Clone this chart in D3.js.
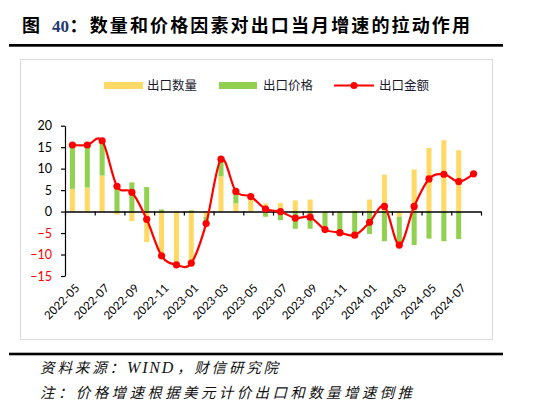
<!DOCTYPE html>
<html><head><meta charset="utf-8">
<script src="https://cdn.jsdelivr.net/npm/d3@7"></script>
<style>body{margin:0;background:#fff}svg{display:block}</style>
</head><body>
<svg id="c" width="537" height="409"></svg>
<script>
const months = ["2022-05","2022-06","2022-07","2022-08","2022-09","2022-10","2022-11","2022-12",
"2023-01","2023-02","2023-03","2023-04","2023-05","2023-06","2023-07","2023-08","2023-09","2023-10","2023-11","2023-12",
"2024-01","2024-02","2024-03","2024-04","2024-05","2024-06","2024-07","2024-08"];
const quantity = [5.3,5.6,8.4,-0.7,-2.2,-7.1,-10.4,-12.3,-11.6,-1.3,8.2,1.9,3.0,1.9,2.0,2.6,2.8,0,0,0.2,2.8,8.6,-1.2,9.8,14.8,16.6,14.3,null];
const price = [9.9,9.4,7.6,6.5,6.8,5.7,0.5,0,0.3,-0.9,3.9,2.4,0.5,-1.2,-2.0,-4.0,-4.0,-3.8,-4.8,-5.0,-5.2,-6.9,-6.5,-7.8,-6.3,-6.9,-6.4,null];
const total = [15.5,15.5,16.5,5.9,4.5,-1.8,-10.3,-12.4,-12.0,-2.8,12.2,4.7,3.5,0.6,0.0,-1.5,-1.3,-4.2,-4.9,-5.5,-2.5,1.2,-7.8,1.2,7.6,8.7,7.0,8.8];
const yTicks = [-15,-10,-5,0,5,10,15,20];
const xLabelMonths = months.filter((m,i)=>i%2===0);
const seriesNames = ["出口数量","出口价格","出口金额"];
const colors = {"出口数量":"#FFD966","出口价格":"#92D050","出口金额":"#FF0000"};

const svg = d3.select("#c");
const L=65,R=481,T=125.7,B=276;
const x = d3.scaleBand().domain(months).range([L,R]).paddingInner(0.66).paddingOuter(0.33);
const xb = d3.scaleLinear().domain([0,months.length]).range([L,R]);
const y = d3.scaleLinear().domain([-15,20]).range([B,T]);
const cx = m => x(m)+x.bandwidth()/2;

// title
const tt = svg.append("g").attr("font-weight","bold").attr("font-size",18).attr("fill","#000");
tt.append("text").attr("x",22).attr("y",32).attr("font-family","Noto Sans CJK SC").text("图");
tt.append("text").attr("x",52).attr("y",32).attr("font-family","Liberation Serif").attr("fill","#1F3A6E").attr("font-size",17).text("40");
tt.append("text").attr("x",69.5).attr("y",32).attr("font-family","Noto Sans CJK SC")
  .attr("textLength",400.5).attr("lengthAdjust","spacing").text("：数量和价格因素对出口当月增速的拉动作用");
svg.append("rect").attr("x",9).attr("y",44).attr("width",494).attr("height",2.7).attr("fill","#000");

// chart frame
svg.append("rect").attr("x",20.5).attr("y",59.5).attr("width",472).attr("height",280).attr("fill","none").attr("stroke","#d9d9d9");

// stacked bars
const rows = months.map((m,i)=>({m, q:quantity[i]||0, p:price[i]||0}));
const stack = d3.stack().keys(["q","p"]).offset(d3.stackOffsetDiverging);
const stacked = stack(rows);
const keyName = {q:"出口数量",p:"出口价格"};
svg.append("g").selectAll("g").data(stacked).join("g")
  .attr("fill",d=>colors[keyName[d.key]])
  .selectAll("rect").data(d=>d).join("rect")
  .attr("x",d=>x(d.data.m)).attr("width",x.bandwidth())
  .attr("y",d=>y(Math.max(d[0],d[1]))).attr("height",d=>Math.abs(y(d[0])-y(d[1])));

// axes
const ya = svg.append("g").attr("transform",`translate(${L},0)`)
  .call(d3.axisLeft(y).tickValues(yTicks).tickSize(4).tickSizeOuter(0).tickPadding(9));
ya.select(".domain").attr("stroke","#000").attr("stroke-width",1.2);
ya.selectAll(".tick line").attr("stroke","#000").attr("stroke-width",1.2);
ya.selectAll(".tick text").attr("font-family","Lato").attr("font-size",12.5)
  .attr("fill",d=>d<0?"#FF0000":"#000");

const xa = svg.append("g").attr("transform",`translate(0,${y(0)})`)
  .call(d3.axisBottom(xb).tickValues(d3.range(0,months.length+1,2)).tickSize(4).tickSizeOuter(0).tickFormat(""));
xa.select(".domain").attr("stroke","#000").attr("stroke-width",1.5);
xa.selectAll(".tick line").attr("stroke","#000").attr("stroke-width",1.2);

// x labels at bottom
svg.append("g").selectAll("text").data(xLabelMonths).join("text")
  .attr("transform",d=>`translate(${cx(d)+5},${B+10}) rotate(-45)`)
  .attr("text-anchor","end").attr("dy","0.35em")
  .attr("font-family","Lato").attr("font-size",11.5).attr("fill","#000").text(d=>d);

// line
const pts = months.map((m,i)=>({m,v:total[i]}));
svg.append("path").datum(pts).attr("fill","none").attr("stroke",colors["出口金额"]).attr("stroke-width",2.2)
  .attr("d",d3.line().x(d=>cx(d.m)).y(d=>y(d.v)).curve(d3.curveCardinal.tension(0)));
svg.append("g").selectAll("circle").data(pts).join("circle")
  .attr("cx",d=>cx(d.m)).attr("cy",d=>y(d.v)).attr("r",3.6).attr("fill",colors["出口金额"]);

// legend
const lg = svg.append("g").attr("font-family","Noto Sans CJK SC").attr("font-size",12.5).attr("fill","#1a1a2e");
lg.append("rect").attr("x",104).attr("y",82).attr("width",39).attr("height",7).attr("fill",colors["出口数量"]);
lg.append("text").attr("x",147).attr("y",90).text(seriesNames[0]);
lg.append("rect").attr("x",219).attr("y",82).attr("width",38).attr("height",7).attr("fill",colors["出口价格"]);
lg.append("text").attr("x",263).attr("y",90).text(seriesNames[1]);
lg.append("line").attr("x1",334).attr("x2",374).attr("y1",85.5).attr("y2",85.5).attr("stroke",colors["出口金额"]).attr("stroke-width",2);
lg.append("circle").attr("cx",354).attr("cy",85.5).attr("r",3.5).attr("fill",colors["出口金额"]);
lg.append("text").attr("x",379).attr("y",90).text(seriesNames[2]);

// footer
svg.append("rect").attr("x",9).attr("y",352.7).attr("width",494).attr("height",2.6).attr("fill","#000");
const ft = svg.append("g").attr("font-family","Noto Sans CJK SC").attr("font-style","italic").attr("font-size",14.5).attr("fill","#111");
ft.append("text").attr("x",40).attr("y",373).attr("textLength",84).attr("lengthAdjust","spacing").text("资料来源：");
ft.append("text").attr("x",127).attr("y",373).attr("font-family","Liberation Serif").attr("font-size",16).attr("letter-spacing",1.8).text("WIND");
ft.append("text").attr("x",177).attr("y",373).attr("textLength",101).attr("lengthAdjust","spacing").text("，财信研究院");
ft.append("text").attr("x",40).attr("y",398).attr("textLength",372).attr("lengthAdjust","spacing").text("注：价格增速根据美元计价出口和数量增速倒推");
</script>
</body></html>
